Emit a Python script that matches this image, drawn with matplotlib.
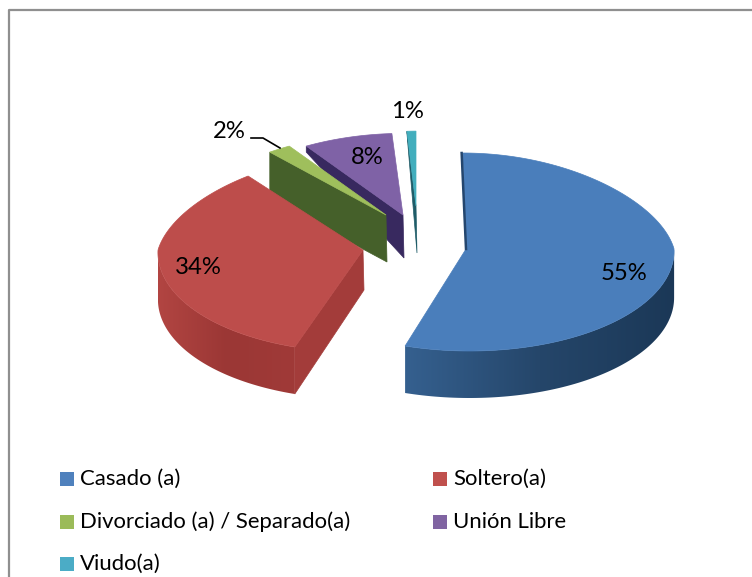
import numpy as np
import matplotlib
matplotlib.use("Agg")
import matplotlib.pyplot as plt
from matplotlib.colors import to_rgb
from matplotlib.patches import Polygon, Rectangle

# datos del grafico
categories = ["Casado (a)", "Soltero(a)", "Divorciado (a) / Separado(a)", "Unión Libre", "Viudo(a)"]
values = [55, 34, 2, 8, 1]
labels = ["55%", "34%", "2%", "8%", "1%"]

# colores de cada porcion
top_colors = ["#4a7ebb", "#bd4d4b", "#9fbf5c", "#7f62a6", "#42aebd"]
legend_colors = ["#4f81bd", "#c0504d", "#9bbb59", "#8064a2", "#4bacc6"]
wall_colors = ["#2c4e75", "#a33c3a", "#45602a", "#38295f", "#1f5c68"]
arc_colors = [["#35608f", "#25466a", "#1b3857"], ["#b24542", "#9b3735", "#a03a38"],
              ["#45602a"] * 3, ["#38295f"] * 3, ["#1f5c68"] * 3]

# geometria en pixeles del dibujo en perspectiva
centers = [(466, 249), (363, 250), (386, 215), (403, 215), (416, 206)]
scale_x = [1.015, 1.0, 0.98, 0.98, 0.8]
scale_y = [1.0, 1.0, 0.85, 0.85, 0.78]
skew = [0.035, -0.05, 0, 0, 0]
apex_depth = [47, 40, 47, 43, 47]
corner_depth = [0, 47, 47, 6, 2]
label_pos = [(624, 273), (198, 267), (229, 132), (367, 158), (407, 111)]
RX = 205
RY_BACK = 96
RY_FRONT = 102
DEPTH = 47
FONT = "Lato"
FS = 17.2


def point(i, t):
    # angulo en grados desde las 12, en sentido horario
    t = np.radians(t)
    s, c = np.sin(t), np.cos(t)
    persp = 1 - 0.12 * np.maximum(c, 0)
    ry = np.where(c > 0, RY_BACK, RY_FRONT)
    y = centers[i][1] - ry * scale_y[i] * c
    x = centers[i][0] + RX * scale_x[i] * s * persp + skew[i] * (y - centers[i][1])
    return x, y


fig = plt.figure(figsize=(7.52, 5.77), dpi=100)
ax = fig.add_axes([0, 0, 1, 1])
ax.axis("off")

# marco del grafico
ax.plot([9, 9, 752], [577, 10, 10], color="#8f8f8f", lw=1.6)

ends = np.cumsum(values) * 3.6
starts = ends - np.array(values) * 3.6

# de atras hacia adelante
z = 2
for i in [4, 3, 2, 1, 0]:
    t = np.linspace(starts[i], ends[i], 160)
    x, y = point(i, t)
    cx, cy = centers[i]

    # pared exterior (solo la parte de adelante), con degradado horizontal
    vis = np.cos(np.radians(t)) < 0
    xv, yv = x[vis], y[vis]
    if len(xv) > 1:
        stops = np.array([to_rgb(c) for c in arc_colors[i]])
        f = np.linspace(0, 1, 200)
        grad = np.stack([np.interp(f, [0, 0.5, 1], stops[:, n]) for n in range(3)], axis=1)[None, :, :]
        wall = Polygon(np.vstack([np.column_stack([xv, yv]), np.column_stack([xv, yv + DEPTH])[::-1]]),
                       closed=True, fc="none", ec="none", transform=ax.transData)
        ax.add_patch(wall)
        im = ax.imshow(grad, extent=[xv.min(), xv.max(), yv.max() + DEPTH, yv.min()],
                       aspect="auto", zorder=z)
        im.set_clip_path(wall)
        z += 1

    # pared del corte
    if i > 0:
        ax.add_patch(Polygon([(cx, cy), (x[0], y[0]), (x[0], y[0] + corner_depth[i]),
                              (cx + 1, cy + apex_depth[i])],
                             closed=True, fc=wall_colors[i], ec=wall_colors[i], lw=0.5, zorder=z))
        z += 1

    # cara superior
    ax.add_patch(Polygon(np.vstack([[cx, cy], np.column_stack([x, y])]), closed=True,
                         fc=top_colors[i], ec=top_colors[i], lw=0.5, zorder=z))
    z += 1

    if i == 0:
        ax.plot([x[0] - 1, cx], [y[0], cy], color="#24466e", lw=1.8, zorder=z)

ax.set_xlim(0, 752)
ax.set_ylim(577, 0)

# etiquetas de porcentaje
for i in range(len(labels)):
    ax.text(label_pos[i][0], label_pos[i][1], labels[i], ha="center", va="center",
            fontsize=FS, family=FONT, color="black", zorder=50)

# linea guia del 2%
ax.plot([251, 263, 280], [138, 138, 148], color="black", lw=1.2, zorder=50)

# leyenda
legend_x = [60, 433, 60, 433, 60]
legend_y = [479, 479, 522, 522, 564]
for i in range(len(categories)):
    ax.add_patch(Rectangle((legend_x[i], legend_y[i] - 7), 14, 14, fc=legend_colors[i], ec="none"))
    ax.text(legend_x[i] + 20, legend_y[i], categories[i], ha="left", va="center",
            fontsize=15.9, family=FONT, color="black")

fig.savefig("out.png", dpi=100)
